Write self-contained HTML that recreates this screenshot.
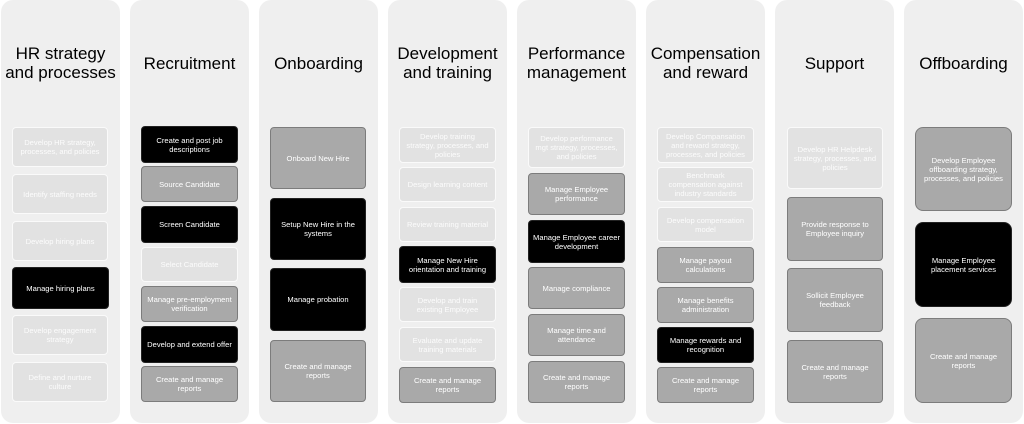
<!DOCTYPE html>
<html><head><style>
body{margin:0;width:1024px;height:424px;background:#fff;position:relative;overflow:hidden;font-family:"Liberation Sans",sans-serif}
.col{position:absolute;top:0;width:119px;height:423px;background:#efefef;border-radius:12px}
.t{position:absolute;top:0;width:119px;height:126px;display:flex;align-items:center;justify-content:center;text-align:center;font-size:17px;line-height:19px;color:#000}
.b{position:absolute;box-sizing:border-box;border-radius:4px;display:flex;align-items:center;justify-content:center;text-align:center;font-size:7.6px;line-height:9px;padding:0 1px;color:#fff;white-space:nowrap}
.w{white-space:normal;padding:0 4px}
.l{background:#e2e2e2;border:1.5px solid #fafafa;color:#fcfcfc}
.g{background:#a9a9a9;border:1.5px solid #7c7c7c}
.k{background:#000;border:1.5px solid #222}
</style></head><body>
<div class="col" style="left:1px"></div><div class="col" style="left:130px"></div><div class="col" style="left:259px"></div><div class="col" style="left:388px"></div><div class="col" style="left:517px"></div><div class="col" style="left:646px"></div><div class="col" style="left:775px"></div><div class="col" style="left:904px"></div>
<div class="t" style="left:1px">HR strategy<br>and processes</div>
<div class="t" style="left:130px">Recruitment</div>
<div class="t" style="left:259px">Onboarding</div>
<div class="t" style="left:388px">Development<br>and training</div>
<div class="t" style="left:517px">Performance<br>management</div>
<div class="t" style="left:646px">Compensation<br>and reward</div>
<div class="t" style="left:775px">Support</div>
<div class="t" style="left:904px">Offboarding</div>

<div class="b l" style="left:12px;top:127px;width:96px;height:40px">Develop HR strategy,<br>processes, and policies</div>
<div class="b l" style="left:12px;top:174px;width:96px;height:40px">Identify staffing needs</div>
<div class="b l" style="left:12px;top:221px;width:96px;height:40px">Develop hiring plans</div>
<div class="b k" style="left:12px;top:267px;width:97px;height:42px">Manage hiring plans</div>
<div class="b l" style="left:12px;top:315px;width:96px;height:40px">Develop engagement<br>strategy</div>
<div class="b l" style="left:12px;top:362px;width:96px;height:40px">Define and nurture<br>culture</div>

<div class="b k" style="left:141px;top:126px;width:97px;height:37px">Create and post job<br>descriptions</div>
<div class="b g" style="left:141px;top:166px;width:97px;height:36px">Source Candidate</div>
<div class="b k" style="left:141px;top:206px;width:97px;height:37px">Screen Candidate</div>
<div class="b l" style="left:141px;top:247px;width:97px;height:35px">Select Candidate</div>
<div class="b g" style="left:141px;top:286px;width:97px;height:36px">Manage pre-employment<br>verification</div>
<div class="b k" style="left:141px;top:326px;width:97px;height:37px">Develop and extend offer</div>
<div class="b g" style="left:141px;top:366px;width:97px;height:36px">Create and manage<br>reports</div>

<div class="b g" style="left:270px;top:127px;width:96px;height:62px">Onboard New Hire</div>
<div class="b k" style="left:270px;top:198px;width:96px;height:62px">Setup New Hire in the<br>systems</div>
<div class="b k" style="left:270px;top:268px;width:96px;height:63px">Manage probation</div>
<div class="b g" style="left:270px;top:340px;width:96px;height:62px">Create and manage<br>reports</div>

<div class="b l" style="left:399px;top:127px;width:97px;height:36px">Develop training<br>strategy, processes, and<br>policies</div>
<div class="b l" style="left:399px;top:167px;width:97px;height:35px">Design learning content</div>
<div class="b l" style="left:399px;top:207px;width:97px;height:35px">Review training material</div>
<div class="b k" style="left:399px;top:246px;width:97px;height:37px">Manage New Hire<br>orientation and training</div>
<div class="b l" style="left:399px;top:287px;width:97px;height:35px">Develop and train<br>existing Employee</div>
<div class="b l" style="left:399px;top:327px;width:97px;height:35px">Evaluate and update<br>training materials</div>
<div class="b g" style="left:399px;top:367px;width:97px;height:36px">Create and manage<br>reports</div>

<div class="b l" style="left:528px;top:127px;width:97px;height:41px">Develop performance<br>mgt strategy, processes,<br>and policies</div>
<div class="b g" style="left:528px;top:173px;width:97px;height:42px">Manage Employee<br>performance</div>
<div class="b k" style="left:528px;top:220px;width:97px;height:43px">Manage Employee career<br>development</div>
<div class="b g" style="left:528px;top:267px;width:97px;height:42px">Manage compliance</div>
<div class="b g" style="left:528px;top:314px;width:97px;height:42px">Manage time and<br>attendance</div>
<div class="b g" style="left:528px;top:361px;width:97px;height:42px">Create and manage<br>reports</div>

<div class="b l" style="left:657px;top:127px;width:97px;height:36px">Develop Compansation<br>and reward strategy,<br>processes, and policies</div>
<div class="b l" style="left:657px;top:167px;width:97px;height:35px">Benchmark<br>compensation against<br>industry standards</div>
<div class="b l" style="left:657px;top:207px;width:97px;height:35px">Develop compensation<br>model</div>
<div class="b g" style="left:657px;top:247px;width:97px;height:36px">Manage payout<br>calculations</div>
<div class="b g" style="left:657px;top:287px;width:97px;height:36px">Manage benefits<br>administration</div>
<div class="b k" style="left:657px;top:327px;width:97px;height:36px">Manage rewards and<br>recognition</div>
<div class="b g" style="left:657px;top:367px;width:97px;height:36px">Create and manage<br>reports</div>

<div class="b l" style="left:787px;top:127px;width:96px;height:62px">Develop HR Helpdesk<br>strategy, processes, and<br>policies</div>
<div class="b g" style="left:787px;top:197px;width:96px;height:64px">Provide response to<br>Employee inquiry</div>
<div class="b g" style="left:787px;top:268px;width:96px;height:64px">Sollicit Employee<br>feedback</div>
<div class="b g" style="left:787px;top:340px;width:96px;height:63px">Create and manage<br>reports</div>

<div class="b g" style="left:915px;top:127px;width:97px;height:84px;border-radius:8px">Develop Employee<br>offboarding strategy,<br>processes, and policies</div>
<div class="b k" style="left:915px;top:222px;width:97px;height:85px;border-radius:8px">Manage Employee<br>placement services</div>
<div class="b g" style="left:915px;top:318px;width:97px;height:85px;border-radius:8px">Create and manage<br>reports</div>
</body></html>
